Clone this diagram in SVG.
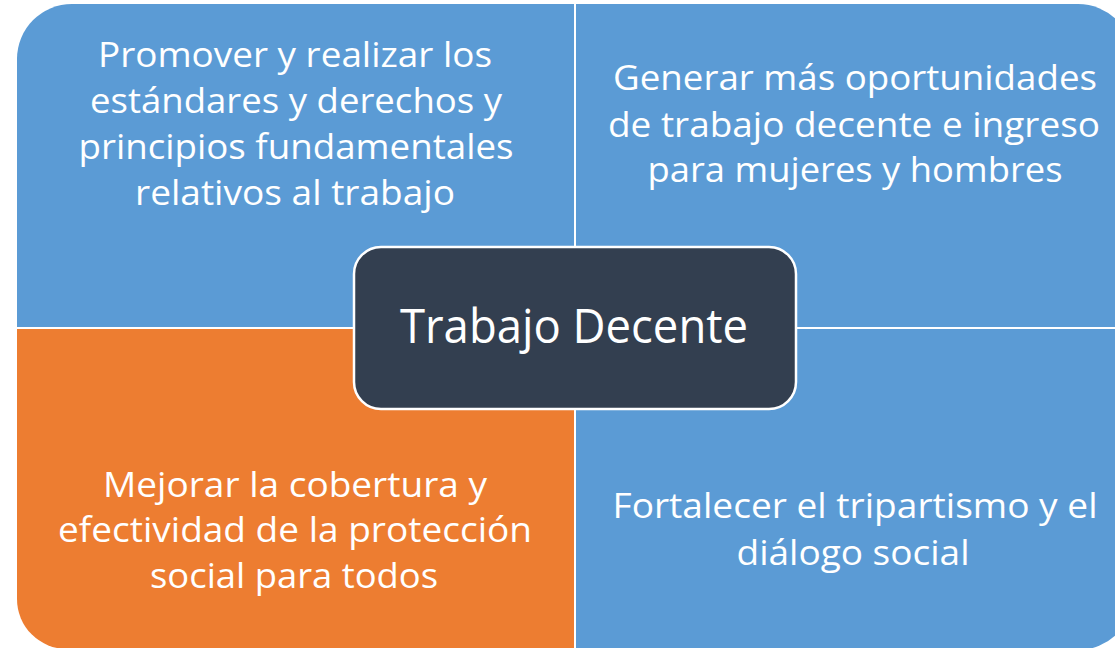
<svg xmlns="http://www.w3.org/2000/svg" width="1115" height="648" viewBox="0 0 1115 648">
<style>
.q{stroke:none}
.blue{fill:#5B9BD5}
.orange{fill:#ED7D31}
.t{font-family:"Open Sans","Noto Sans","Liberation Sans",sans-serif;fill:#FFFFFF;text-anchor:middle;font-size:34px}
.c{font-size:48px}
</style>
<rect width="1115" height="648" fill="#FFFFFF"/>
<g id="q-top-left">
<path class="q blue" d="M17,59 A55,55 0 0 1 72,4 L574,4 L574,327 L17,327 Z"/>
<text class="t" x="295" y="67" textLength="394" lengthAdjust="spacingAndGlyphs">Promover y realizar los</text>
<text class="t" x="296" y="113" textLength="412" lengthAdjust="spacingAndGlyphs">estándares y derechos y</text>
<text class="t" x="296" y="159" textLength="435" lengthAdjust="spacingAndGlyphs">principios fundamentales</text>
<text class="t" x="295" y="205" textLength="320" lengthAdjust="spacingAndGlyphs">relativos al trabajo</text>
</g>
<g id="q-top-right">
<path class="q blue" d="M576,4 L1078,4 A55,55 0 0 1 1133,59 L1133,327 L576,327 Z"/>
<text class="t" x="855" y="90" textLength="484" lengthAdjust="spacingAndGlyphs">Generar más oportunidades</text>
<text class="t" x="854" y="137" textLength="492" lengthAdjust="spacingAndGlyphs">de trabajo decente e ingreso</text>
<text class="t" x="855" y="182" textLength="415" lengthAdjust="spacingAndGlyphs">para mujeres y hombres</text>
</g>
<g id="q-bottom-left">
<path class="q orange" d="M17,329 L574,329 L574,649 L67,649 A50,50 0 0 1 17,599 Z"/>
<text class="t" x="295" y="497" textLength="384" lengthAdjust="spacingAndGlyphs">Mejorar la cobertura y</text>
<text class="t" x="295" y="542" textLength="474" lengthAdjust="spacingAndGlyphs">efectividad de la protección</text>
<text class="t" x="294" y="588" textLength="288" lengthAdjust="spacingAndGlyphs">social para todos</text>
</g>
<g id="q-bottom-right">
<path class="q blue" d="M576,329 L1133,329 L1133,595 A55,55 0 0 1 1078,650 L576,650 Z"/>
<text class="t" x="855" y="518" textLength="485" lengthAdjust="spacingAndGlyphs">Fortalecer el tripartismo y el</text>
<text class="t" x="853" y="565" textLength="233" lengthAdjust="spacingAndGlyphs">diálogo social</text>
</g>
<g id="center-node">
<rect x="354" y="247" width="442" height="162" rx="27" ry="27" fill="#333F50" stroke="#FFFFFF" stroke-width="2.5"/>
<text class="t c" x="574" y="343" textLength="348" lengthAdjust="spacingAndGlyphs">Trabajo Decente</text>
</g>
<g id="connectors"></g>
</svg>
